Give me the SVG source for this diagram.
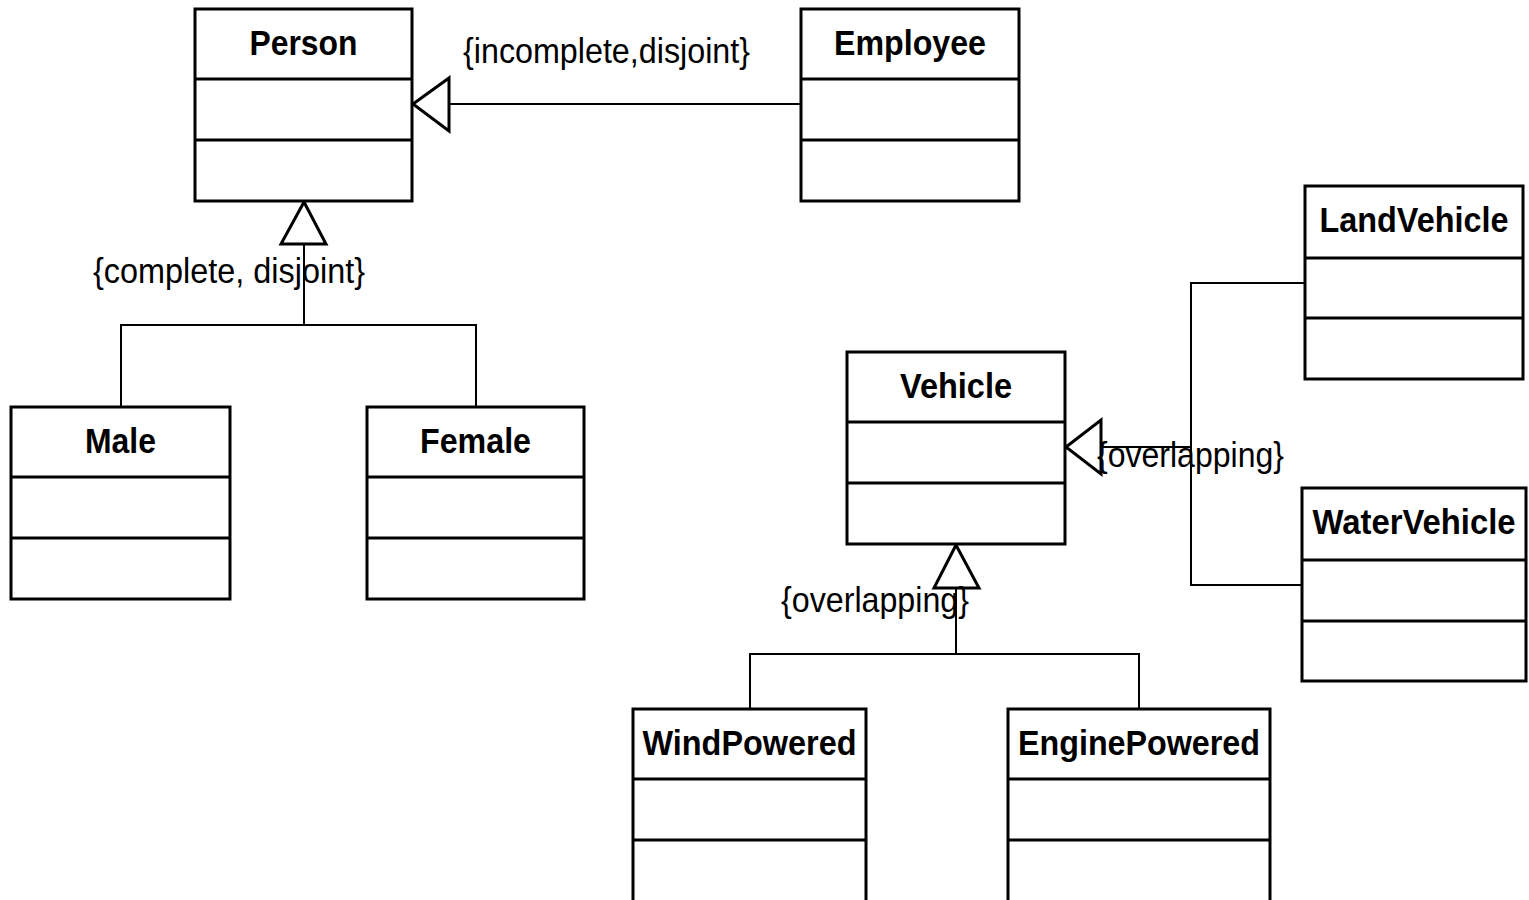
<svg xmlns="http://www.w3.org/2000/svg" width="1529" height="900" viewBox="0 0 1529 900">
<style>
.box{fill:#fff;stroke:#000;stroke-width:3}
.div{stroke:#000;stroke-width:3}
.title{font-family:"Liberation Sans",Arial,sans-serif;font-size:35px;font-weight:bold;text-anchor:middle;fill:#000}
.lbl{font-family:"Liberation Sans",Arial,sans-serif;font-size:35px;fill:#000}
.conn{fill:none;stroke:#000;stroke-width:2}
.tri{fill:#fff;stroke:#000;stroke-width:3;stroke-linejoin:miter}
</style>
<rect width="1529" height="900" fill="#fff"/>
<g id="connectors">
  <line class="conn" x1="449" y1="104" x2="801" y2="104"/>
  <polygon class="tri" points="413,104 449,78 449,131"/>
  <polyline class="conn" points="304,244 304,325"/>
  <polyline class="conn" points="121,407 121,325 476,325 476,407"/>
  <polygon class="tri" points="304,202 281,244 326,244"/>
  <line class="conn" x1="1101" y1="447" x2="1191" y2="447"/>
  <polyline class="conn" points="1305,283 1191,283 1191,585 1302,585"/>
  <polygon class="tri" points="1066,447 1101,420 1101,474"/>
  <line class="conn" x1="956" y1="588" x2="956" y2="654"/>
  <polyline class="conn" points="750,709 750,654 1139,654 1139,709"/>
  <polygon class="tri" points="956,545 934,588 979,588"/>
  <text class="lbl" x="463" y="63" textLength="287" lengthAdjust="spacingAndGlyphs">{incomplete,disjoint}</text>
  <text class="lbl" x="93" y="283" textLength="272" lengthAdjust="spacingAndGlyphs">{complete, disjoint}</text>
  <text class="lbl" x="781" y="612" textLength="188" lengthAdjust="spacingAndGlyphs">{overlapping}</text>
  <text class="lbl" x="1097" y="467" textLength="187" lengthAdjust="spacingAndGlyphs">{overlapping}</text>
</g>
<g id="Person">
  <rect class="box" x="195" y="9" width="217" height="192"/>
  <line class="div" x1="195" y1="79" x2="412" y2="79"/>
  <line class="div" x1="195" y1="140" x2="412" y2="140"/>
  <text class="title" x="303.5" y="55" textLength="108" lengthAdjust="spacingAndGlyphs">Person</text>
</g>
<g id="Employee">
  <rect class="box" x="801" y="9" width="218" height="192"/>
  <line class="div" x1="801" y1="79" x2="1019" y2="79"/>
  <line class="div" x1="801" y1="140" x2="1019" y2="140"/>
  <text class="title" x="910" y="55" textLength="152" lengthAdjust="spacingAndGlyphs">Employee</text>
</g>
<g id="Male">
  <rect class="box" x="11" y="407" width="219" height="192"/>
  <line class="div" x1="11" y1="477" x2="230" y2="477"/>
  <line class="div" x1="11" y1="538" x2="230" y2="538"/>
  <text class="title" x="120.5" y="453" textLength="71" lengthAdjust="spacingAndGlyphs">Male</text>
</g>
<g id="Female">
  <rect class="box" x="367" y="407" width="217" height="192"/>
  <line class="div" x1="367" y1="477" x2="584" y2="477"/>
  <line class="div" x1="367" y1="538" x2="584" y2="538"/>
  <text class="title" x="475.5" y="453" textLength="111" lengthAdjust="spacingAndGlyphs">Female</text>
</g>
<g id="Vehicle">
  <rect class="box" x="847" y="352" width="218" height="192"/>
  <line class="div" x1="847" y1="422" x2="1065" y2="422"/>
  <line class="div" x1="847" y1="483" x2="1065" y2="483"/>
  <text class="title" x="956" y="398" textLength="112" lengthAdjust="spacingAndGlyphs">Vehicle</text>
</g>
<g id="LandVehicle">
  <rect class="box" x="1305" y="186" width="218" height="193"/>
  <line class="div" x1="1305" y1="258" x2="1523" y2="258"/>
  <line class="div" x1="1305" y1="318" x2="1523" y2="318"/>
  <text class="title" x="1414" y="232" textLength="189" lengthAdjust="spacingAndGlyphs">LandVehicle</text>
</g>
<g id="WaterVehicle">
  <rect class="box" x="1302" y="488" width="224" height="193"/>
  <line class="div" x1="1302" y1="560" x2="1526" y2="560"/>
  <line class="div" x1="1302" y1="621" x2="1526" y2="621"/>
  <text class="title" x="1414" y="534" textLength="203" lengthAdjust="spacingAndGlyphs">WaterVehicle</text>
</g>
<g id="WindPowered">
  <rect class="box" x="633" y="709" width="233" height="200"/>
  <line class="div" x1="633" y1="779" x2="866" y2="779"/>
  <line class="div" x1="633" y1="840" x2="866" y2="840"/>
  <text class="title" x="749.5" y="755" textLength="214" lengthAdjust="spacingAndGlyphs">WindPowered</text>
</g>
<g id="EnginePowered">
  <rect class="box" x="1008" y="709" width="262" height="200"/>
  <line class="div" x1="1008" y1="779" x2="1270" y2="779"/>
  <line class="div" x1="1008" y1="840" x2="1270" y2="840"/>
  <text class="title" x="1139" y="755" textLength="242" lengthAdjust="spacingAndGlyphs">EnginePowered</text>
</g>
</svg>
